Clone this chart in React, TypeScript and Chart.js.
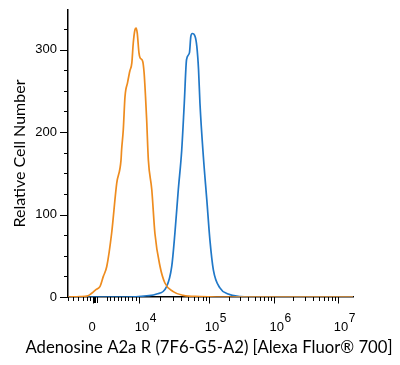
import React, { useEffect, useRef } from "react";
import { Chart, registerables } from "chart.js";

Chart.register(...registerables);

// Histogram data: x in display channels (0–1000 along the biexponential axis), y = cell count
const orangeX = [0, 42, 70, 83, 98, 112, 124, 136, 153, 171, 186, 188, 194, 200, 209, 217, 224, 229, 235, 239, 243, 249, 253, 262, 267, 272, 276, 282, 294, 305, 323, 340, 369, 404, 463, 520, 1000];
const orangeY = [0, 0.5, 1.5, 4.5, 9, 12.5, 25, 37, 77, 138, 166, 178, 203, 243, 260, 274, 284, 308, 324, 326, 320, 296, 290, 286, 272, 243, 215, 166, 130, 77, 37, 17, 6.5, 2, 0.5, 0, 0];

const blueX = [0, 200, 276, 311, 346, 364, 375, 387, 399, 408, 416, 426, 431, 436, 446, 452, 458, 463, 475, 487, 498, 510, 533, 562, 604, 639, 1000];
const blueY = [0, 0, 1.5, 3.6, 12.5, 37, 77, 130, 178, 235, 288, 296, 316, 319.5, 316, 304, 276, 235, 170, 118, 69, 33, 11, 3.6, 0.5, 0, 0];

// Axis definitions
const yMax = 348;
const yMajorTicks = [0, 100, 200, 300];
const yMinorStep = 25;

const xMin = 0;
const xMax = 1000;
// Major x ticks: raw fluorescence value, display channel, label base, exponent
const xTickValues = [0, 1e4, 1e5, 1e6, 1e7];
const xTickChannels = [88, 250, 496, 723, 948];
const xTickBases = ["0", "10", "10", "10", "10"];
const xTickExps = ["", "4", "5", "6", "7"];
// minor ticks around zero / linear region (channels)
const xNearZeroTicks = [1, 18.6, 36, 53.7, 65.6, 77, 88, 92, 96, 100];

const xTitle = "Adenosine A2a R (7F6-G5-A2) [Alexa Fluor® 700]";
const yTitle = "Relative Cell Number";

const orangeColor = "#EE8C1F";
const blueColor = "#2078C8";

function minorXTicks(): number[] {
  const out: number[] = [...xNearZeroTicks];
  const c1k = 136;
  const step = (xTickChannels[1] - c1k) / 9;
  for (let m = 1; m <= 9; m++) out.push(c1k + (m - 1) * step);
  for (let k = 1; k < xTickChannels.length - 1; k++) {
    const a = xTickChannels[k];
    const b = xTickChannels[k + 1];
    for (let m = 2; m <= 9; m++) out.push(a + Math.log10(m) * (b - a));
  }
  return out;
}

const axisDecor = {
  id: "axisDecor",
  afterDraw(chart: any) {
    const { ctx, chartArea, scales } = chart;
    const x = scales.x;
    const y = scales.y;
    ctx.save();
    ctx.strokeStyle = "#000";
    ctx.lineWidth = 1;
    // y ticks
    for (let v = 0; v <= yMax; v += yMinorStep) {
      const py = Math.round(y.getPixelForValue(v)) + 0.5;
      const len = yMajorTicks.includes(v) ? 8 : 4;
      ctx.beginPath();
      ctx.moveTo(chartArea.left - len, py);
      ctx.lineTo(chartArea.left, py);
      ctx.stroke();
    }
    // x ticks
    const base = chartArea.bottom;
    const drawX = (c: number, len: number) => {
      const px = Math.round(x.getPixelForValue(c)) + 0.5;
      ctx.beginPath();
      ctx.moveTo(px, base);
      ctx.lineTo(px, base + len);
      ctx.stroke();
    };
    minorXTicks().forEach((c) => drawX(c, c >= 86 && c <= 101 ? 6 : 4));
    xTickChannels.forEach((c) => drawX(c, 6.5));
    // x tick labels
    ctx.fillStyle = "#000";
    ctx.textAlign = "left";
    ctx.textBaseline = "alphabetic";
    xTickValues.forEach((_, i) => {
      const px = x.getPixelForValue(xTickChannels[i]);
      ctx.font = '13px "Liberation Sans", Arial, sans-serif';
      const left = px - 4.5;
      ctx.fillText(xTickBases[i], left, base + 34);
      if (xTickExps[i]) {
        const w = ctx.measureText(xTickBases[i]).width;
        ctx.font = '12px "Liberation Sans", Arial, sans-serif';
        ctx.fillText(xTickExps[i], left + w + 0.5, base + 25);
      }
    });
    // axis titles
    ctx.textAlign = "center";
    ctx.font = '16.7px Lato, "Open Sans", sans-serif';
    ctx.fillText(xTitle, 209, base + 56);
    ctx.font = '16px Lato, "Open Sans", sans-serif';
    ctx.save();
    ctx.translate(25, (chartArea.top + chartArea.bottom) / 2);
    ctx.rotate(-Math.PI / 2);
    ctx.fillText(yTitle, 0, 0);
    ctx.restore();
    ctx.restore();
  },
};

export default function App() {
  const ref = useRef<HTMLCanvasElement | null>(null);
  useEffect(() => {
    document.body.style.margin = "0";
    if (!ref.current) return;
    const chart = new Chart(ref.current, {
      type: "line",
      data: {
        datasets: [
          {
            label: "Isotype",
            data: orangeX.map((v, i) => ({ x: v, y: orangeY[i] })),
            borderColor: orangeColor,
            borderWidth: 1.7,
            pointRadius: 0,
            cubicInterpolationMode: "monotone",
            fill: false,
          },
          {
            label: "A2a R",
            data: blueX.map((v, i) => ({ x: v, y: blueY[i] })),
            borderColor: blueColor,
            borderWidth: 1.7,
            pointRadius: 0,
            cubicInterpolationMode: "monotone",
            fill: false,
          },
        ],
      },
      options: {
        responsive: false,
        animation: false,
        layout: { padding: { top: 10, right: 47, left: 0, bottom: 0 } },
        plugins: { legend: { display: false }, tooltip: { enabled: false } },
        scales: {
          x: {
            type: "linear",
            min: xMin,
            max: xMax,
            grid: { display: false, drawTicks: false },
            border: { display: true, color: "#000", width: 1.5 },
            ticks: { display: false },
            afterFit: (s: any) => {
              s.height = 68;
              s.paddingLeft = 0;
              s.paddingRight = 0;
            },
          },
          y: {
            type: "linear",
            min: 0,
            max: yMax,
            grid: { display: false, drawTicks: false },
            border: { display: true, color: "#000", width: 1.5 },
            afterBuildTicks: (s: any) => {
              s.ticks = yMajorTicks.map((v) => ({ value: v }));
            },
            afterFit: (s: any) => {
              s.width = 68;
              s.paddingTop = 0;
              s.paddingBottom = 0;
            },
            ticks: {
              color: "#000",
              padding: 11,
              font: { family: "'Liberation Sans', Arial, sans-serif", size: 13 },
            },
          },
        },
      },
      plugins: [axisDecor],
    });
    return () => chart.destroy();
  }, []);
  return (
    <div style={{ width: 400, height: 365 }}>
      <canvas ref={ref} width={400} height={365} style={{ display: "block" }} />
    </div>
  );
}
